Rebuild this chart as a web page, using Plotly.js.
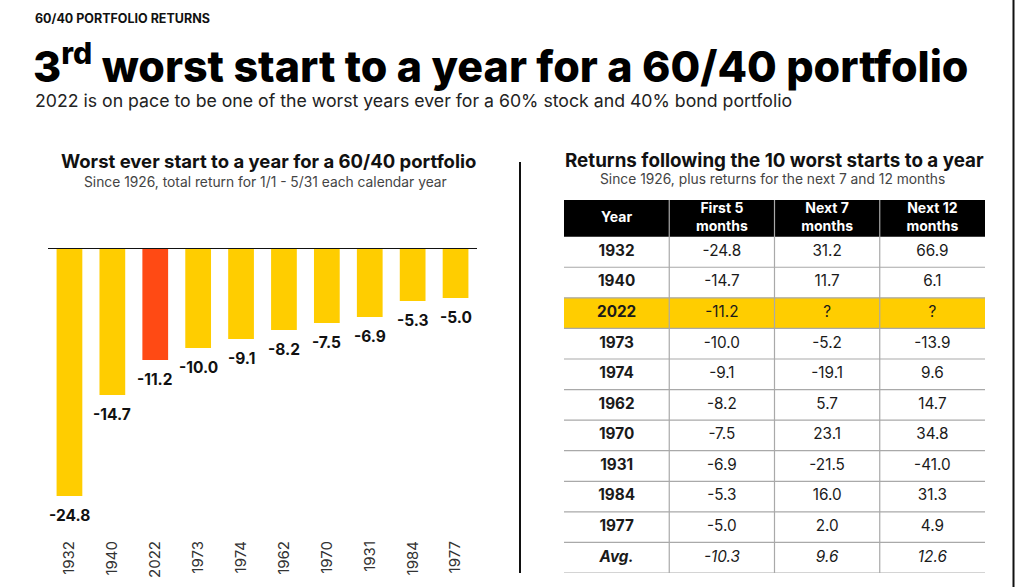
<!DOCTYPE html>
<html>
<head>
<meta charset="utf-8">
<script src="https://cdn.plot.ly/plotly-3.0.1.min.js"></script>
<style>html,body{margin:0;padding:0;background:#fff;}#chart{width:1015px;height:587px;}</style>
</head>
<body>
<div id="chart"></div>
<script>
// ---- Data ----
const barYears = ['1932','1940','2022','1973','1974','1962','1970','1931','1984','1977'];
const firstFive = [-24.8, -14.7, -11.2, -10.0, -9.1, -8.2, -7.5, -6.9, -5.3, -5.0];
const nextSeven = [31.2, 11.7, null, -5.2, -19.1, 5.7, 23.1, -21.5, 16.0, 2.0];
const nextTwelve = [66.9, 6.1, null, -13.9, 9.6, 14.7, 34.8, -41.0, 31.3, 4.9];
const avgLabel = 'Avg.';
const avgValues = [-10.3, 9.6, 12.6];
const highlightYear = '2022';
const headerLabels = ['Year', 'First 5<br>months', 'Next 7<br>months', 'Next 12<br>months'];

// ---- Styles ----
const YELLOW = '#FFCD00', RED = '#FF4A14', GRID = '#a9a9a9';
const W = 1015, H = 587;
const px = x => x / W, py = y => 1 - y / H;
const FONT = 'Inter, "Open Sans", sans-serif';
const fmt = v => (v === null ? '?' : v.toFixed(1));

// ---- Bar chart ----
const barTrace = {
  type: 'bar',
  x: barYears,
  y: firstFive,
  marker: {color: barYears.map(y => y === highlightYear ? RED : YELLOW), line: {width: 0}},
  hoverinfo: 'skip',
  xaxis: 'x', yaxis: 'y'
};

// value labels under each bar, placed through the axes (category index on x)
const barLabels = barYears.map((yr, i) => ({
  xref: 'x', yref: 'y', x: i, y: firstFive[i],
  text: '<b>' + fmt(firstFive[i]) + '</b>',
  showarrow: false, xanchor: 'center', yanchor: 'top', yshift: -8,
  font: {family: FONT, size: 15.5, color: '#111'}
}));

// ---- Table built on a second cartesian subplot ----
const nRows = barYears.length + 1;
const HDR = 1.2;
const rowCenters = Array.from({length: nRows}, (_, i) => i + 0.5);
const tableCols = [
  barYears.map(y => '<b>' + y + '</b>').concat(['<b><i>' + avgLabel + '</i></b>']),
  firstFive.map(fmt).concat(['<i>' + fmt(avgValues[0]) + '</i>']),
  nextSeven.map(fmt).concat(['<i>' + fmt(avgValues[1]) + '</i>']),
  nextTwelve.map(fmt).concat(['<i>' + fmt(avgValues[2]) + '</i>'])
];

const tableTraces = tableCols.map((col, c) => ({
  type: 'scatter', mode: 'text',
  x: col.map(() => c + 0.5), y: rowCenters,
  text: col,
  textposition: 'middle center',
  textfont: {family: FONT, size: 15.3, color: '#1a1a1a'},
  hoverinfo: 'skip', cliponaxis: false,
  xaxis: 'x2', yaxis: 'y2'
}));

const headerTrace = {
  type: 'scatter', mode: 'text',
  x: headerLabels.map((_, c) => c + 0.5), y: headerLabels.map(() => -HDR / 2),
  text: headerLabels.map(h => '<b>' + h + '</b>'),
  textposition: 'middle center',
  textfont: {family: FONT, size: 14, color: '#ffffff'},
  hoverinfo: 'skip', cliponaxis: false,
  xaxis: 'x2', yaxis: 'y2'
};

const hiIdx = barYears.indexOf(highlightYear);

const shapes = [
  {type: 'rect', xref: 'x2', yref: 'y2', x0: 0, x1: 4, y0: -HDR, y1: 0,
   fillcolor: '#000', line: {width: 0}, layer: 'below'},
  {type: 'rect', xref: 'x2', yref: 'y2', x0: 0, x1: 4, y0: hiIdx, y1: hiIdx + 1,
   fillcolor: YELLOW, line: {width: 0}, layer: 'below'}
];
for (let i = 1; i <= nRows; i++) {
  shapes.push({type: 'line', xref: 'x2', yref: 'y2', x0: 0, x1: 4, y0: i, y1: i,
    line: {color: GRID, width: 1.2}, layer: 'below'});
}
for (let c = 1; c < headerLabels.length; c++) {
  shapes.push({type: 'line', xref: 'x2', yref: 'y2', x0: c, x1: c, y0: -HDR, y1: nRows,
    line: {color: GRID, width: 1.2}, layer: 'below'});
}
shapes.push(
  {type: 'line', xref: 'paper', yref: 'y', x0: px(48), x1: px(477), y0: 0, y1: 0,
   line: {color: '#111', width: 2}, layer: 'above'},
  {type: 'line', xref: 'paper', yref: 'paper', x0: px(520), x1: px(520), y0: py(162), y1: py(573),
   line: {color: '#111', width: 2}},
  {type: 'line', xref: 'paper', yref: 'paper', x0: px(1013.5), x1: px(1013.5), y0: 0, y1: 1,
   line: {color: '#111', width: 2}}
);

const annotations = [
  {text: '<b>60/40 PORTFOLIO RETURNS</b>', x: px(33), y: py(18), xanchor: 'left', yanchor: 'middle',
   font: {family: FONT, size: 12.5, color: '#111'}},
  {text: '3<sup>rd</sup> worst start to a year for a 60/40 portfolio', x: px(31), y: py(64), xanchor: 'left', yanchor: 'middle',
   font: {family: FONT, size: 43, color: '#000', weight: 800}},
  {text: '2022 is on pace to be one of the worst years ever for a 60% stock and 40% bond portfolio', x: px(33), y: py(100), xanchor: 'left', yanchor: 'middle',
   font: {family: FONT, size: 17.7, color: '#222'}},
  {text: '<b>Worst ever start to a year for a 60/40 portfolio</b>', x: px(268), y: py(161), xanchor: 'center', yanchor: 'middle',
   font: {family: FONT, size: 18.5, color: '#111'}},
  {text: 'Since 1926, total return for 1/1 - 5/31 each calendar year', x: px(265), y: py(182), xanchor: 'center', yanchor: 'middle',
   font: {family: FONT, size: 13.8, color: '#444'}},
  {text: '<b>Returns following the 10 worst starts to a year</b>', x: px(774), y: py(160), xanchor: 'center', yanchor: 'middle',
   font: {family: FONT, size: 18.8, color: '#111'}},
  {text: 'Since 1926, plus returns for the next 7 and 12 months', x: px(772), y: py(179), xanchor: 'center', yanchor: 'middle',
   font: {family: FONT, size: 13.8, color: '#444'}}
].map(a => Object.assign({xref: 'paper', yref: 'paper', showarrow: false}, a)).concat(barLabels);

const layout = {
  width: W, height: H,
  margin: {l: 0, r: 0, t: 0, b: 0},
  paper_bgcolor: '#fff', plot_bgcolor: 'rgba(0,0,0,0)',
  showlegend: false,
  bargap: 0.4,
  font: {family: FONT},
  xaxis: {
    domain: [px(48), px(477)], anchor: 'y', type: 'category',
    range: [-0.5, barYears.length - 0.5],
    tickangle: -90,
    showgrid: false, zeroline: false, showline: false, ticks: '',
    tickfont: {family: FONT, size: 15, color: '#333'},
    fixedrange: true
  },
  yaxis: {
    domain: [py(537), py(248)], anchor: 'x',
    range: [-28.9, 0],
    visible: false, showgrid: false, zeroline: false, fixedrange: true
  },
  xaxis2: {
    domain: [px(564), px(985)], anchor: 'y2',
    range: [0, 4], visible: false, showgrid: false, zeroline: false, fixedrange: true
  },
  yaxis2: {
    domain: [py(573), py(200)], anchor: 'x2',
    range: [nRows, -HDR], visible: false, showgrid: false, zeroline: false, fixedrange: true
  },
  annotations: annotations,
  shapes: shapes
};

Plotly.newPlot('chart', [barTrace, headerTrace].concat(tableTraces), layout, {staticPlot: true, displayModeBar: false});
</script>
</body>
</html>
